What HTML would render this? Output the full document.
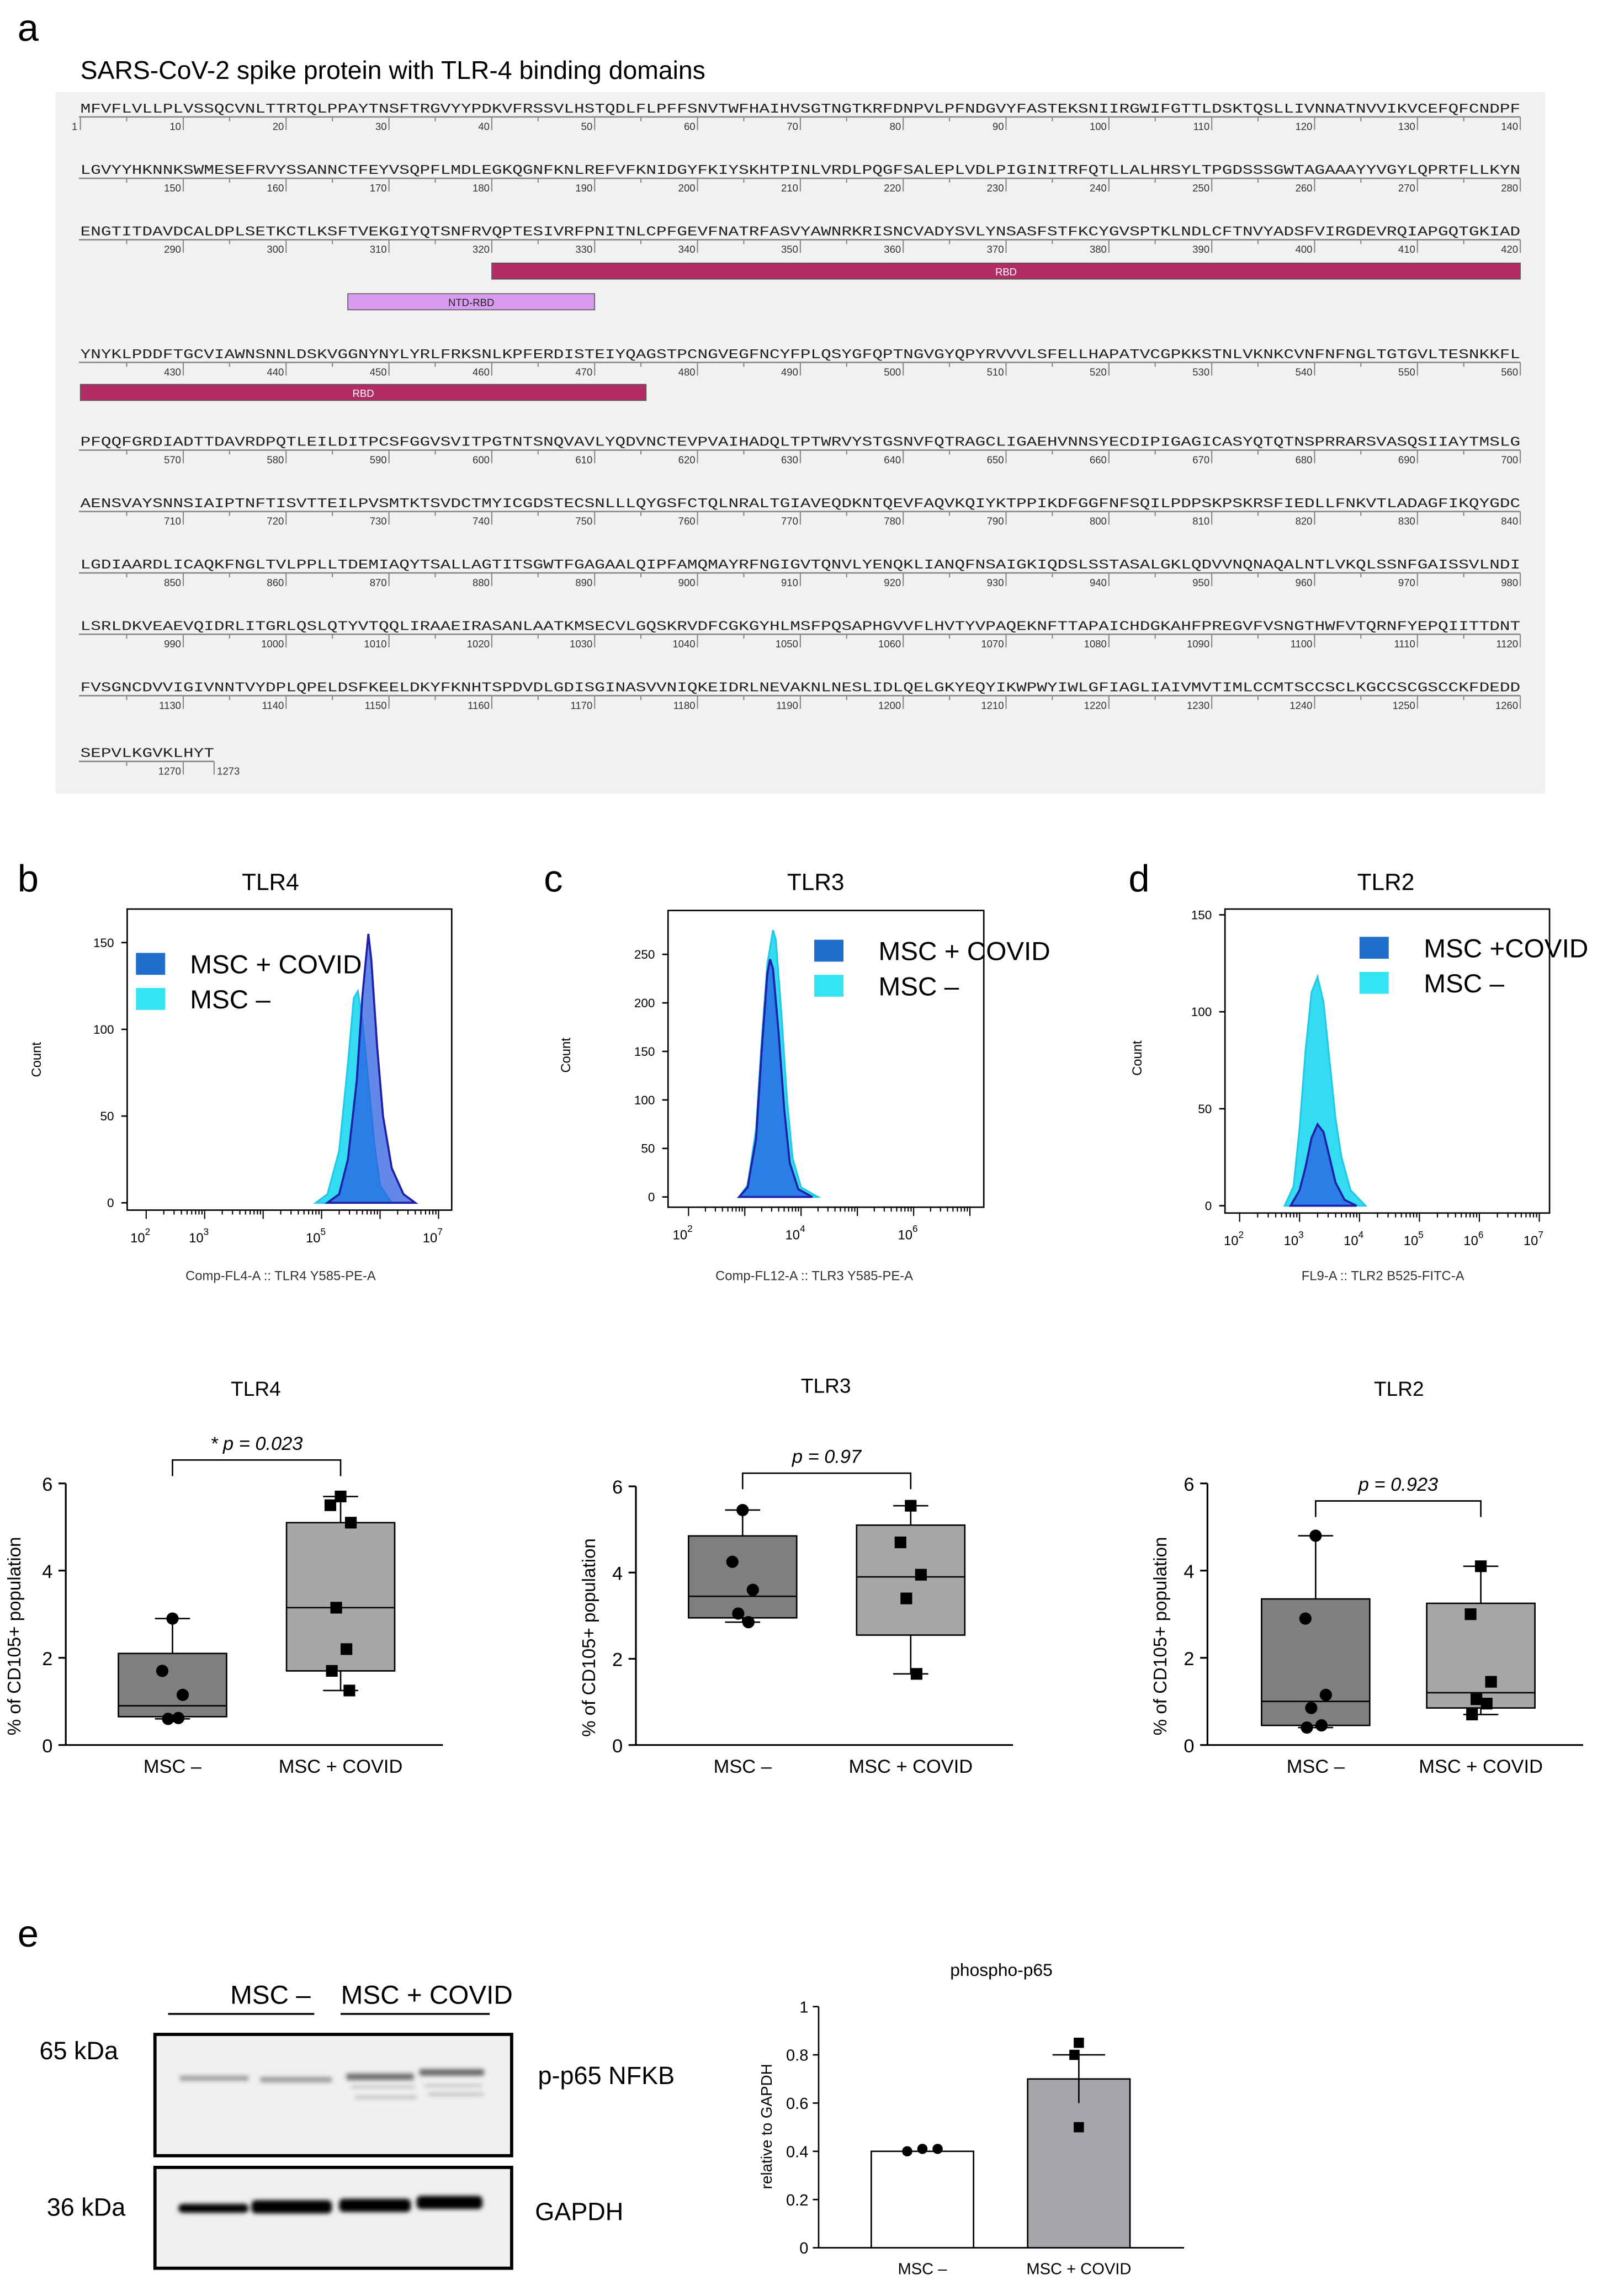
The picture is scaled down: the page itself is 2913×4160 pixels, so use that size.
<!DOCTYPE html>
<html><head><meta charset="utf-8"><style>
html,body{margin:0;padding:0;background:#fff;}
svg{display:block;}
text{font-family:"Liberation Sans",sans-serif;}
.mono{font-family:"Liberation Mono",monospace;}
</style></head><body>
<svg id="fig" width="2913" height="4160" viewBox="0 0 1100 1571" preserveAspectRatio="none" xmlns="http://www.w3.org/2000/svg">
<rect x="0" y="0" width="1100" height="1571" fill="#fff"/>
<text x="12" y="28" font-size="26">a</text>
<text x="55" y="54" font-size="17.5">SARS-CoV-2 spike protein with TLR-4 binding domains</text>
<rect x="38" y="63" width="1019" height="480" fill="#f1f1f1"/>
<g id="seq"></g>
<text x="12" y="610" font-size="26">b</text>
<text x="372" y="610" font-size="26">c</text>
<text x="772" y="610" font-size="26">d</text>
<text x="12" y="1332" font-size="26">e</text>
<g id="hist"></g>
<g id="box"></g>
<g id="blot"></g>
<g id="bar"></g>
</svg>
<script>
const NS="http://www.w3.org/2000/svg";
function mk(tag,attrs,parent,txt){const e=document.createElementNS(NS,tag);for(const k in attrs)e.setAttribute(k,attrs[k]);if(txt!==undefined)e.textContent=txt;parent.appendChild(e);return e;}

/* ---------- sequence ---------- */
const seqRows=["MFVFLVLLPLVSSQCVNLTTRTQLPPAYTNSFTRGVYYPDKVFRSSVLHSTQDLFLPFFSNVTWFHAIHVSGTNGTKRFDNPVLPFNDGVYFASTEKSNIIRGWIFGTTLDSKTQSLLIVNNATNVVIKVCEFQFCNDPF",
"LGVYYHKNNKSWMESEFRVYSSANNCTFEYVSQPFLMDLEGKQGNFKNLREFVFKNIDGYFKIYSKHTPINLVRDLPQGFSALEPLVDLPIGINITRFQTLLALHRSYLTPGDSSSGWTAGAAAYYVGYLQPRTFLLKYN",
"ENGTITDAVDCALDPLSETKCTLKSFTVEKGIYQTSNFRVQPTESIVRFPNITNLCPFGEVFNATRFASVYAWNRKRISNCVADYSVLYNSASFSTFKCYGVSPTKLNDLCFTNVYADSFVIRGDEVRQIAPGQTGKIAD",
"YNYKLPDDFTGCVIAWNSNNLDSKVGGNYNYLYRLFRKSNLKPFERDISTEIYQAGSTPCNGVEGFNCYFPLQSYGFQPTNGVGYQPYRVVVLSFELLHAPATVCGPKKSTNLVKNKCVNFNFNGLTGTGVLTESNKKFL",
"PFQQFGRDIADTTDAVRDPQTLEILDITPCSFGGVSVITPGTNTSNQVAVLYQDVNCTEVPVAIHADQLTPTWRVYSTGSNVFQTRAGCLIGAEHVNNSYECDIPIGAGICASYQTQTNSPRRARSVASQSIIAYTMSLG",
"AENSVAYSNNSIAIPTNFTISVTTEILPVSMTKTSVDCTMYICGDSTECSNLLLQYGSFCTQLNRALTGIAVEQDKNTQEVFAQVKQIYKTPPIKDFGGFNFSQILPDPSKPSKRSFIEDLLFNKVTLADAGFIKQYGDC",
"LGDIAARDLICAQKFNGLTVLPPLLTDEMIAQYTSALLAGTITSGWTFGAGAALQIPFAMQMAYRFNGIGVTQNVLYENQKLIANQFNSAIGKIQDSLSSTASALGKLQDVVNQNAQALNTLVKQLSSNFGAISSVLNDI",
"LSRLDKVEAEVQIDRLITGRLQSLQTYVTQQLIRAAEIRASANLAATKMSECVLGQSKRVDFCGKGYHLMSFPQSAPHGVVFLHVTYVPAQEKNFTTAPAICHDGKAHFPREGVFVSNGTHWFVTQRNFYEPQIITTDNT",
"FVSGNCDVVIGIVNNTVYDPLQPELDSFKEELDKYFKNHTSPDVDLGDISGINASVVNIQKEIDRLNEVAKNLNESLIDLQELGKYEQYIKWPWYIWLGFIAGLIAIVMVTIMLCCMTSCCSCLKGCCSCGSCCKFDEDD",
"SEPVLKGVKLHYT"];
const rowY=[77,119,161,245,305,347,389,431,473,518];
const domains=[{name:"RBD",row:2,from:41,to:140,y:180,color:"#b22d66",tc:"#fff"},{name:"NTD-RBD",row:2,from:27,to:50,y:201,color:"#d99bf0",tc:"#222"},{name:"RBD",row:3,from:1,to:55,y:263,color:"#b22d66",tc:"#fff"}];
(function(){
 const g=document.getElementById('seq');const cw=985/140,x0=55;
 seqRows.forEach((s,r)=>{
  const y=rowY[r];const start=r*140;
  const t=mk('text',{x:x0,y:y,'font-size':9.2,class:'mono',fill:'#222',textLength:(s.length*cw).toFixed(1),lengthAdjust:'spacingAndGlyphs'},g,s);
  
  
  const ly=y+3;
  const ln=mk('line',{x1:x0-1,y1:ly,x2:x0+s.length*cw,y2:ly,stroke:'#888','stroke-width':1},g);
  
  
  for(let i=1;i<=s.length;i++){
   const n=start+i;const tx=x0+i*cw;
   if(n%10===0){
    mk('line',{x1:tx,y1:ly,x2:tx,y2:ly+9,stroke:'#888','stroke-width':0.8},g);
    const nt=mk('text',{x:tx-1.5,y:ly+9,'font-size':7,'text-anchor':'end',fill:'#333'},g,String(n));
    
    
   } else if(n%10===5){
    mk('line',{x1:tx-cw/2,y1:ly,x2:tx-cw/2,y2:ly+3,stroke:'#888','stroke-width':0.8},g);
   }
  }
  if(r===0){mk('line',{x1:x0,y1:ly,x2:x0,y2:ly+9,stroke:'#888','stroke-width':0.8},g);mk('text',{x:x0-2,y:ly+9,'font-size':7,'text-anchor':'end',fill:'#333'},g,'1');}
  if(r===9){const tx=x0+s.length*cw;mk('line',{x1:tx,y1:ly,x2:tx,y2:ly+9,stroke:'#888','stroke-width':0.8},g);mk('text',{x:tx+2,y:ly+9,'font-size':7,fill:'#333'},g,'1273');}
 });
 domains.forEach(d=>{
  const xa=x0+(d.from-1)*cw,xb=x0+d.to*cw;
  const r=mk('rect',{x:xa,y:d.y,width:xb-xa,height:11,fill:d.color,stroke:'#555','stroke-width':0.6},g);
  
  
  mk('text',{x:(xa+xb)/2,y:d.y+8.5,'font-size':7,'text-anchor':'middle',fill:d.tc},g,d.name);
 });
})();

/* ---------- histograms ---------- */
const tlr4Covid=[[5.1,0],[5.3,5],[5.45,25],[5.6,70],[5.7,120],[5.8,155],[5.85,140],[5.95,90],[6.05,50],[6.2,20],[6.4,5],[6.6,0]];
const tlr4Ctrl=[[4.9,0],[5.1,5],[5.3,30],[5.45,80],[5.55,118],[5.62,122],[5.7,105],[5.8,70],[5.9,35],[6.0,10],[6.2,0]];
const tlr3Covid=[[2.9,0],[3.05,10],[3.2,60],[3.3,150],[3.4,230],[3.45,245],[3.5,235],[3.6,170],[3.7,90],[3.8,35],[3.95,8],[4.2,0]];
const tlr3Ctrl=[[2.9,0],[3.05,12],[3.2,70],[3.3,160],[3.4,240],[3.5,275],[3.55,265],[3.65,190],[3.75,100],[3.85,40],[4.0,10],[4.3,0]];
const tlr2Covid=[[2.85,0],[3.0,8],[3.1,20],[3.2,35],[3.3,42],[3.4,38],[3.5,25],[3.6,12],[3.75,3],[3.95,0]];
const tlr2Ctrl=[[2.75,0],[2.9,10],[3.0,40],[3.1,80],[3.2,110],[3.3,118],[3.4,105],[3.5,75],[3.6,45],[3.7,25],[3.85,8],[4.1,0]];
const tlr4YTicks=[0,50,100,150];
const tlr3YTicks=[0,50,100,150,200,250];
const tlr2YTicks=[0,50,100,150];
const tlr4XTicks=[2,3,5,7];
const tlr3XTicks=[2,4,6];
const tlr2XTicks=[2,3,4,5,6,7];
const histPanels=[
 {id:'tlr4',title:'TLR4',tx:185,fx:87,fy:622,fw:222,fh:206,x0:100,dec:40,y0:823,ppc:1.187,yt:tlr4YTicks,xt:tlr4XTicks,covid:tlr4Covid,ctrl:tlr4Ctrl,xl:'Comp-FL4-A :: TLR4 Y585-PE-A',xlx:192,cy:725,cx:28,lx:100,ly:652,lt:130,leg:['MSC + COVID','MSC –'],lg:24},
 {id:'tlr3',title:'TLR3',tx:558,fx:457,fy:623,fw:216,fh:203,x0:471,dec:38.5,y0:819,ppc:0.664,yt:tlr3YTicks,xt:tlr3XTicks,covid:tlr3Covid,ctrl:tlr3Ctrl,xl:'Comp-FL12-A :: TLR3 Y585-PE-A',xlx:557,cy:722,cx:390,lx:564,ly:643,lt:601,leg:['MSC + COVID','MSC –'],lg:24},
 {id:'tlr2',title:'TLR2',tx:948,fx:838,fy:622,fw:222,fh:208,x0:848,dec:41,y0:825,ppc:1.327,yt:tlr2YTicks,xt:tlr2XTicks,covid:tlr2Covid,ctrl:tlr2Ctrl,xl:'FL9-A :: TLR2 B525-FITC-A',xlx:946,cy:724,cx:781,lx:937,ly:641,lt:974,leg:['MSC +COVID','MSC –'],lg:24}
];
(function(){
 const g=document.getElementById('hist');
 histPanels.forEach(p=>{
  const X=v=>p.x0+(v-2)*p.dec, Y=c=>p.y0-c*p.ppc;
  const t=mk('text',{x:p.tx,y:609,'font-size':16,'text-anchor':'middle'},g,p.title);
  
  
  const fr=mk('rect',{x:p.fx,y:p.fy,width:p.fw,height:p.fh,fill:'#fff',stroke:'#000','stroke-width':1},g);
  
  
  const path=(pts)=>'M'+pts.map(q=>X(q[0]).toFixed(1)+','+Y(q[1]).toFixed(1)).join(' L');
  const a=mk('path',{d:path(p.ctrl)+'Z',fill:'#34dcf2',stroke:'#22c8e8','stroke-width':1.2},g);
  
  
  const b=mk('path',{d:path(p.covid)+'Z',fill:'rgba(40,90,225,0.72)',stroke:'#1f1fa8','stroke-width':1.4},g);
  
  
  p.yt.forEach(v=>{mk('line',{x1:p.fx-4,y1:Y(v),x2:p.fx,y2:Y(v),stroke:'#000'},g);
   const l=mk('text',{x:p.fx-9,y:Y(v)+3,'font-size':8.5,'text-anchor':'end'},g,String(v));
   
   });
  const xe=p.fx+p.fw;
  for(let d=2;d<=7;d++){for(let k=1;k<10;k++){const x=X(d+Math.log10(k));if(x<p.fx||x>xe)continue;
   mk('line',{x1:x,y1:p.fy+p.fh,x2:x,y2:p.fy+p.fh+(k===1?6:3),stroke:'#000','stroke-width':0.8},g);}}
  p.xt.forEach(v=>{const x=X(v);const tt=mk('text',{x:x-4,y:p.fy+p.fh+22,'font-size':9,'text-anchor':'middle'},g);
   
   
   mk('tspan',{},tt,'10');mk('tspan',{dy:-5,'font-size':6.5},tt,String(v));});
  const xl=mk('text',{x:p.xlx,y:876,'font-size':9,'text-anchor':'middle',fill:'#333'},g,p.xl);
  
  
  const cl=mk('text',{x:p.cx,y:p.cy,'font-size':9,'text-anchor':'middle',transform:'rotate(-90 '+p.cx+' '+p.cy+')'},g,'Count');
  
  
  const cols=['#1f6fcf','#34e4f2'];
  p.leg.forEach((s,i)=>{
   const r=mk('rect',{x:p.lx-7,y:p.ly+i*p.lg,width:20,height:15,fill:cols[i]},g);
   
   
   const lt=mk('text',{x:p.lt,y:p.ly+i*p.lg+14,'font-size':18},g,s);
   
   
  });
 });
})();

/* ---------- box plots ---------- */
const boxCats=['MSC –','MSC + COVID'];
const tlr4Ctrl_pts=[2.9,1.7,1.15,0.6,0.62];
const tlr4Covid_pts=[5.7,5.5,5.1,3.15,2.2,1.7,1.25];
const tlr3Ctrl_pts=[5.45,4.25,3.6,3.05,2.85];
const tlr3Covid_pts=[5.55,4.7,3.95,3.4,1.65];
const tlr2Ctrl_pts=[4.8,2.9,1.15,0.85,0.45,0.4];
const tlr2Covid_pts=[4.1,3.0,1.45,1.05,0.95,0.7];
const tlr4Ctrl_box=[0.6,0.65,0.9,2.1,2.9];
const tlr4Covid_box=[1.25,1.7,3.15,5.1,5.7];
const tlr3Ctrl_box=[2.85,2.95,3.45,4.85,5.45];
const tlr3Covid_box=[1.65,2.55,3.9,5.1,5.55];
const tlr2Ctrl_box=[0.4,0.45,1.0,3.35,4.8];
const tlr2Covid_box=[0.7,0.85,1.2,3.25,4.1];
const boxYTicks=[0,2,4,6];
const boxPvals=['* p = 0.023','p = 0.97','p = 0.923'];
const boxPanels=[
 {id:'tlr4',title:'TLR4',tx:175,ty:955,ax:45,top:1015,bot:1194,cx:[118,233],b:[tlr4Ctrl_box,tlr4Covid_box],pts:[tlr4Ctrl_pts,tlr4Covid_pts],br:999,p:boxPvals[0],yl:14},
 {id:'tlr3',title:'TLR3',tx:565,ty:953,ax:435,top:1017,bot:1194,cx:[508,623],b:[tlr3Ctrl_box,tlr3Covid_box],pts:[tlr3Ctrl_pts,tlr3Covid_pts],br:1008,p:boxPvals[1],yl:407},
 {id:'tlr2',title:'TLR2',tx:957,ty:955,ax:826,top:1015,bot:1194,cx:[900,1013],b:[tlr2Ctrl_box,tlr2Covid_box],pts:[tlr2Ctrl_pts,tlr2Covid_pts],br:1027,p:boxPvals[2],yl:798}
];
(function(){
 const g=document.getElementById('box');const jit=[0,-7,7,-3,4,-6,6];
 boxPanels.forEach(p=>{
  const Y=v=>p.bot-(v/6)*(p.bot-p.top);
  const t=mk('text',{x:p.tx,y:p.ty,'font-size':14,'text-anchor':'middle'},g,p.title);
  
  
  mk('line',{x1:p.ax,y1:p.top,x2:p.ax,y2:p.bot,stroke:'#000','stroke-width':1.2},g);
  mk('line',{x1:p.ax,y1:p.bot,x2:p.cx[1]+70,y2:p.bot,stroke:'#000','stroke-width':1.2},g);
  boxYTicks.forEach(v=>{mk('line',{x1:p.ax-5,y1:Y(v),x2:p.ax,y2:Y(v),stroke:'#000','stroke-width':1.2},g);
   const l=mk('text',{x:p.ax-9,y:Y(v)+5,'font-size':13,'text-anchor':'end'},g,String(v));
   
   });
  const yc=(p.top+p.bot)/2;
  const yl=mk('text',{x:p.yl,y:yc+15,'font-size':12.5,'text-anchor':'middle',transform:'rotate(-90 '+p.yl+' '+(yc+15)+')'},g,'% of CD105+ population');
  
  
  const fills=['#7f7f7f','#a7a7a7'];
  [0,1].forEach(i=>{
   const cx=p.cx[i],s=p.b[i],h=37;
   mk('line',{x1:cx,y1:Y(s[0]),x2:cx,y2:Y(s[4]),stroke:'#000','stroke-width':1},g);
   mk('line',{x1:cx-12,y1:Y(s[0]),x2:cx+12,y2:Y(s[0]),stroke:'#000'},g);
   mk('line',{x1:cx-12,y1:Y(s[4]),x2:cx+12,y2:Y(s[4]),stroke:'#000'},g);
   const r=mk('rect',{x:cx-h,y:Y(s[3]),width:2*h,height:Y(s[1])-Y(s[3]),fill:fills[i],stroke:'#000','stroke-width':1},g);
   
   
   mk('line',{x1:cx-h,y1:Y(s[2]),x2:cx+h,y2:Y(s[2]),stroke:'#000','stroke-width':1},g);
   p.pts[i].forEach((v,j)=>{
    let m;
    if(i===0)m=mk('circle',{cx:cx+jit[j%7],cy:Y(v),r:4.2,fill:'#000'},g);
    else m=mk('rect',{x:cx+jit[j%7]-4,y:Y(v)-4,width:8,height:8,fill:'#000'},g);
    
    
   });
   const c=mk('text',{x:cx,y:p.bot+19,'font-size':13,'text-anchor':'middle'},g,boxCats[i]);
   
   
  });
  mk('path',{d:`M${p.cx[0]},${p.br+11}V${p.br}H${p.cx[1]}V${p.br+11}`,fill:'none',stroke:'#000','stroke-width':1},g);
  const pt=mk('text',{x:(p.cx[0]+p.cx[1])/2,y:p.br-7,'font-size':13,'text-anchor':'middle','font-style':'italic'},g,p.p);
  
  
 });
})();

/* ---------- western blot ---------- */
(function(){
 const g=document.getElementById('blot');
 const lab=[['MSC –',185,115,215],['MSC + COVID',292,233,335]];
 lab.forEach(l=>{const t=mk('text',{x:l[1],y:1371,'font-size':18,'text-anchor':'middle'},g,l[0]);
  
  
  mk('line',{x1:l[2],y1:1378,x2:l[3],y2:1378,stroke:'#000','stroke-width':1.3},g);});
 const defs=mk('defs',{},g);const f=mk('filter',{id:'bl'},defs);mk('feGaussianBlur',{stdDeviation:1.5},f);
 const top=mk('rect',{x:106,y:1392,width:244,height:83,fill:'#f0f0f0',stroke:'#000','stroke-width':2.2},g);
 
 
 const bot=mk('rect',{x:106,y:1483,width:244,height:69,fill:'#efefef',stroke:'#000','stroke-width':2.2},g);
 
 
 const bg=mk('g',{filter:'url(#bl)'},g);
 /* [x, y, width, height, colour] */
 [[123,1422,47,3.5,'#9c9c9c'],[178,1423,49,3.5,'#959595'],[237,1421,46,4.5,'#6e6e6e'],[287,1418,44,4.5,'#686868'],[240,1428,44,2,'#c4c4c4'],[290,1427,40,2,'#c4c4c4'],[243,1435,42,2,'#b8b8b8'],[293,1433,38,2,'#b8b8b8']].forEach(b=>{
  mk('rect',{x:b[0],y:b[1]-b[3]/2,width:b[2],height:b[3],fill:b[4]},bg);});
 [[122,1510,48,6],[172,1509,55,9],[232,1508,49,9],[285,1506,45,9]].forEach(b=>{
  mk('rect',{x:b[0],y:b[1]-b[3]/2+1,width:b[2],height:b[3],rx:3,fill:'#050505'},bg);});
 [['65 kDa',27,1409],['36 kDa',32,1516],['p-p65 NFKB',368,1426],['GAPDH',366,1519]].forEach(l=>{
  const t=mk('text',{x:l[1],y:l[2],'font-size':17},g,l[0]);
  
  });
})();

/* ---------- bar chart ---------- */
const barCats=['MSC –','MSC + COVID'];
const barMeans=[0.40,0.70];
const barErr=[0.005,0.10];
const barPtsCtrl=[0.40,0.41,0.41];
const barPtsCovid=[0.85,0.80,0.50];
const barYTicks=[0,0.2,0.4,0.6,0.8,1];
(function(){
 const g=document.getElementById('bar');
 const ax=560,top=1373,bot=1538;const Y=v=>bot-v*(bot-top);const cx=[631,738];
 const t=mk('text',{x:685,y:1352,'font-size':12,'text-anchor':'middle'},g,'phospho-p65');
 
 
 mk('line',{x1:ax,y1:top,x2:ax,y2:bot,stroke:'#000'},g);
 mk('line',{x1:ax,y1:bot,x2:810,y2:bot,stroke:'#000'},g);
 barYTicks.forEach(v=>{mk('line',{x1:ax-4,y1:Y(v),x2:ax,y2:Y(v),stroke:'#000'},g);
  const l=mk('text',{x:ax-7,y:Y(v)+4,'font-size':11,'text-anchor':'end'},g,String(v));
  
  });
 const yl=mk('text',{x:528,y:1455,'font-size':10.5,'text-anchor':'middle',transform:'rotate(-90 528 1455)'},g,'relative to GAPDH');
 
 
 const fills=['#fff','#a5a5aa'];const pts=[barPtsCtrl,barPtsCovid];const jit=[-8,0,8];
 barMeans.forEach((m,i)=>{
  const r=mk('rect',{x:cx[i]-35,y:Y(m),width:70,height:bot-Y(m),fill:fills[i],stroke:'#000','stroke-width':1},g);
  
  
  if(barErr[i]>0.01){mk('line',{x1:cx[i],y1:Y(m-barErr[i]),x2:cx[i],y2:Y(m+barErr[i]),stroke:'#000'},g);
   mk('line',{x1:cx[i]-18,y1:Y(m+barErr[i]),x2:cx[i]+18,y2:Y(m+barErr[i]),stroke:'#000'},g);}
  pts[i].forEach((v,j)=>{let mm;
   if(i===0)mm=mk('circle',{cx:cx[i]+jit[j]*1.3,cy:Y(v),r:3.5,fill:'#000'},g);
   else mm=mk('rect',{x:cx[i]-3.5+(j===1?-3:0),y:Y(v)-3.5,width:7,height:7,fill:'#000'},g);
   
   });
  const c=mk('text',{x:cx[i],y:1556,'font-size':11,'text-anchor':'middle'},g,barCats[i]);
  
  
 });
})();
</script>
</body></html>
